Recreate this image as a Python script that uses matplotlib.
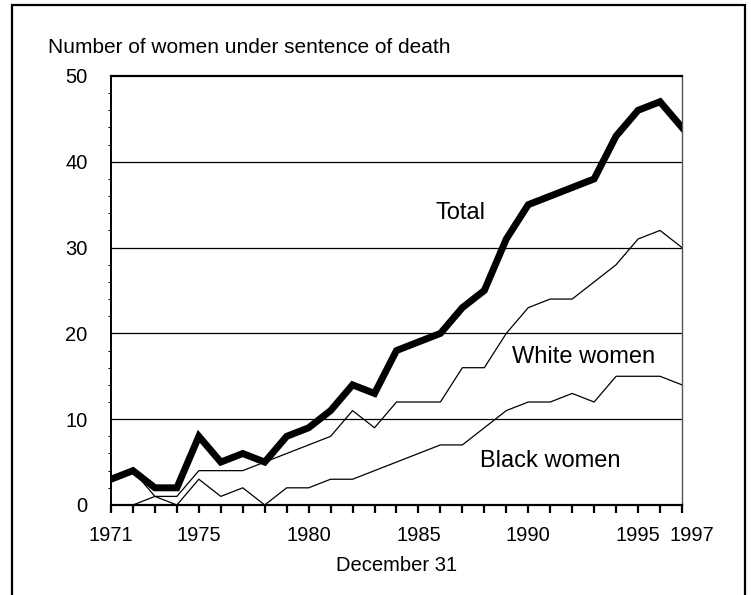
import matplotlib
matplotlib.use("Agg")
import matplotlib.pyplot as plt
import matplotlib.transforms as mtransforms
from matplotlib.patches import Rectangle

plt.rcParams['font.family'] = ['Liberation Sans', 'DejaVu Sans']

years = list(range(1971, 1998))
total = [3, 4, 2, 2, 8, 5, 6, 5, 8, 9, 11, 14, 13, 18, 19, 20, 23, 25, 31, 35,
         36, 37, 38, 43, 46, 47, 44]
white = [0, 0, 1, 1, 4, 4, 4, 5, 6, 7, 8, 11, 9, 12, 12, 12, 16, 16, 20, 23,
         24, 24, 26, 28, 31, 32, 30]
black = [3, 4, 1, 0, 3, 1, 2, 0, 2, 2, 3, 3, 4, 5, 6, 7, 7, 9, 11, 12,
         12, 13, 12, 15, 15, 15, 14]
xlabels = [1971, 1975, 1980, 1985, 1990, 1995, 1997]

fig = plt.figure(figsize=(7.51, 5.95), dpi=100)
ax = fig.add_axes([0.1478, 0.1513, 0.7603, 0.7210])

for y in [10, 20, 30, 40]:
    ax.axhline(y, color='black', lw=0.9, zorder=1)

ax.plot(years, white, color='black', lw=0.9, zorder=3)
ax.plot(years, black, color='black', lw=0.9, zorder=3)
ax.plot(years, total, color='black', lw=5, zorder=4, solid_joinstyle='miter')

ax.set_xlim(1971, 1997)
ax.set_ylim(0, 50)

ax.set_xticks(years, minor=True)
ax.set_xticks(xlabels)
ax.set_xticklabels([str(x) for x in xlabels])
ax.tick_params(axis='x', which='both', direction='out', length=6, width=1.6,
               color='black')
ax.tick_params(axis='x', which='major', labelsize=14.5, pad=9)

ax.set_yticks([0, 10, 20, 30, 40, 50])
ax.set_yticks([y for y in range(2, 50, 2) if y % 10], minor=True)
ax.tick_params(axis='y', which='major', length=0, labelsize=14.5, pad=17)
ax.tick_params(axis='y', which='minor', direction='out', length=2.5, width=0.7)

# shift the 1997 label a bit right so it doesn't touch 1995
lab = ax.get_xticklabels()[-1]
lab.set_transform(lab.get_transform() + mtransforms.ScaledTranslation(0.1, 0, fig.dpi_scale_trans))

ax.spines['top'].set_linewidth(1.6)
ax.spines['bottom'].set_linewidth(1.6)
ax.spines['left'].set_linewidth(1.4)
ax.spines['right'].set_linewidth(1.0)
ax.spines['right'].set_color('#555555')

ax.text(1986.9, 34.0, 'Total', fontsize=17, ha='center', va='center')
ax.text(1992.5, 17.25, 'White women', fontsize=17, ha='center', va='center')
ax.text(1991.0, 5.07, 'Black women', fontsize=17, ha='center', va='center')

fig.text(0.064, 0.921, 'Number of women under sentence of death', fontsize=15,
         ha='left', va='center')
fig.text(0.5286, 0.049, 'December 31', fontsize=14.5, ha='center', va='center')

fig.patches.append(Rectangle((0.016, -0.02), 0.976, 1.0116, transform=fig.transFigure,
                             fill=False, edgecolor='black', lw=1.6))

fig.savefig('out.png', dpi=100)
